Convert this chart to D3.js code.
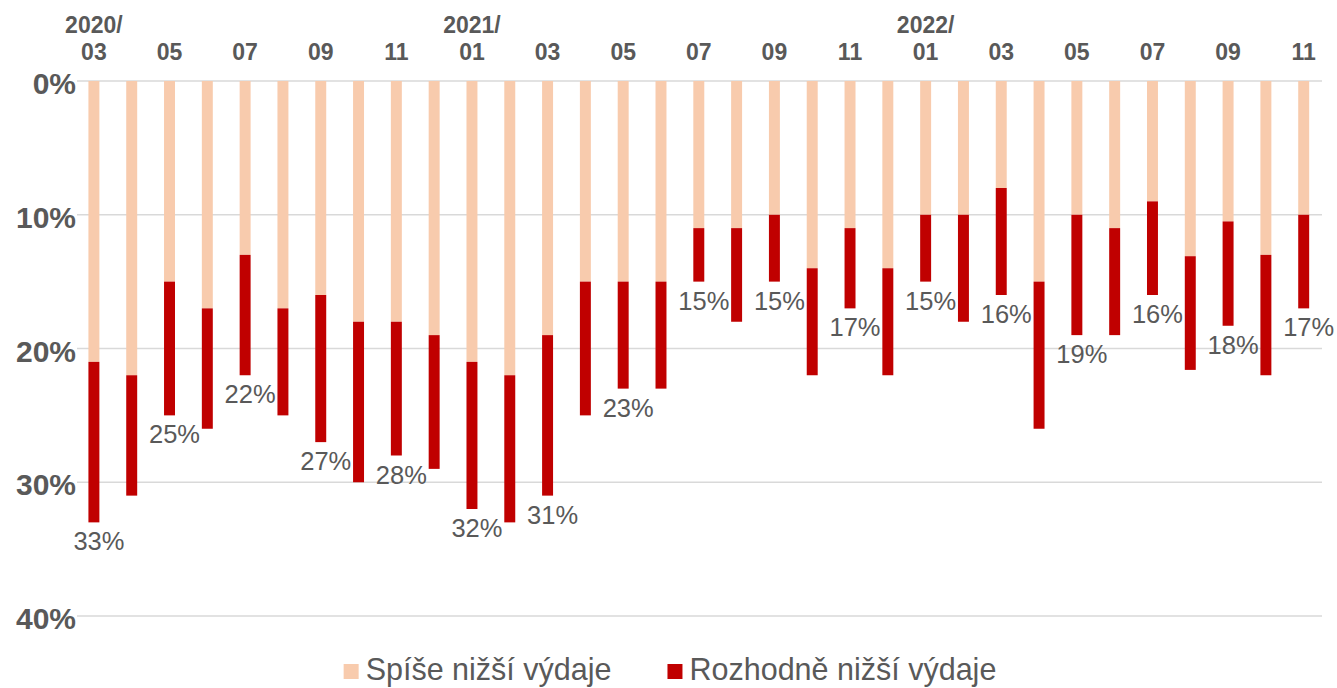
<!DOCTYPE html>
<html lang="cs">
<head>
  <meta charset="UTF-8">
  <title>Nižší výdaje</title>
  <script src="https://d3js.org/d3.v7.min.js"></script>
  <style>
    body { margin: 0; background: #fff; }
    text { font-family: Arial, "Liberation Sans", sans-serif; fill: #595959; }
    .axis-y text { font-size: 30px; font-weight: bold; }
    .axis-x text { font-size: 23px; font-weight: bold; }
    .val { font-size: 25.5px; }
    .legend text { font-size: 30.5px; }
  </style>
</head>
<body>
  <div id="chart"></div>

  <script>
    // months (tick labels come from these)
    const months = [
      "2020/03","2020/04","2020/05","2020/06","2020/07","2020/08","2020/09","2020/10","2020/11","2020/12",
      "2021/01","2021/02","2021/03","2021/04","2021/05","2021/06","2021/07","2021/08","2021/09","2021/10","2021/11","2021/12",
      "2022/01","2022/02","2022/03","2022/04","2022/05","2022/06","2022/07","2022/08","2022/09","2022/10","2022/11"
    ];
    // share of respondents, %
    const spise = [21,22,15,17,13,17,16,18,18,19,21,22,19,15,15,15,11,11,10,14,11,14,10,10,8,15,10,11,9,13.1,10.5,13,10];
    const rozhodne = [12,9,10,9,9,8,11,12,10,10,11,11,12,10,8,8,4,7,5,8,6,8,5,8,8,11,9,8,7,8.5,7.8,9,7];
    const seriesNames = ["Spíše nižší výdaje", "Rozhodně nižší výdaje"];
    const colors = ["#f8cbad", "#c00000"];
    const yTicks = [0, 10, 20, 30, 40];

    const width = 1337;
    const height = 688;

    const svg = d3.select("#chart")
      .append("svg")
      .attr("width", width)
      .attr("height", height);

    const x = d3.scaleBand()
      .domain(months)
      .range([75, 1322.6])
      .paddingInner(0.71)
      .paddingOuter(0.355);

    const y = d3.scaleLinear()
      .domain([0, 40])
      .range([81, 616]);

    // gridlines
    svg.append("g")
      .selectAll("line")
      .data(yTicks)
      .enter()
      .append("line")
      .attr("x1", 77)
      .attr("x2", 1322)
      .attr("y1", d => y(d))
      .attr("y2", d => y(d))
      .attr("stroke", "#d9d9d9")
      .attr("stroke-width", 1.5);

    // y labels
    svg.append("g")
      .attr("class", "axis-y")
      .selectAll("text")
      .data(yTicks)
      .enter()
      .append("text")
      .attr("x", 76)
      .attr("y", d => y(d) + 13)
      .attr("text-anchor", "end")
      .text(d => d + "%");

    // stacked bars (going down from 0%)
    const rows = months.map((m, i) => ({ month: m, spise: spise[i], rozhodne: rozhodne[i] }));
    const stack = d3.stack().keys(["spise", "rozhodne"])(rows);

    svg.append("g")
      .selectAll("g")
      .data(stack)
      .enter()
      .append("g")
      .attr("fill", (d, i) => colors[i])
      .selectAll("rect")
      .data(d => d)
      .enter()
      .append("rect")
      .attr("x", d => x(d.data.month))
      .attr("y", d => y(d[0]))
      .attr("width", x.bandwidth())
      .attr("height", d => y(d[1]) - y(d[0]));

    // total labels on every other month
    const totals = stack[1];
    svg.append("g")
      .selectAll("text")
      .data(totals.filter((d, i) => i % 2 === 0))
      .enter()
      .append("text")
      .attr("class", "val")
      .attr("x", d => x(d.data.month) + x.bandwidth() / 2 + 5)
      .attr("y", d => y(d[1]) + 28)
      .attr("text-anchor", "middle")
      .text(d => Math.round(d[1]) + "%");

    // x labels on top
    const xg = svg.append("g").attr("class", "axis-x");
    months.forEach((m, i) => {
      if (i % 2 !== 0) return;
      const [yr, mo] = m.split("/");
      const cx = x(m) + x.bandwidth() / 2;
      xg.append("text")
        .attr("x", cx)
        .attr("y", 60)
        .attr("text-anchor", "middle")
        .text(mo);
      if (i === 0 || mo === "01") {
        xg.append("text")
          .attr("x", cx)
          .attr("y", 32.5)
          .attr("text-anchor", "middle")
          .text(yr + "/");
      }
    });

    // legend, centred under the chart
    const legend = svg.append("g").attr("class", "legend");
    const items = seriesNames.map((name, i) => {
      const g = legend.append("g");
      g.append("rect")
        .attr("x", 0)
        .attr("y", -16)
        .attr("width", 15)
        .attr("height", 15)
        .attr("fill", colors[i]);
      const t = g.append("text")
        .attr("x", 22)
        .attr("y", 0)
        .text(name);
      return { g, w: 22 + t.node().getComputedTextLength() };
    });
    const gap = 56;
    const total = d3.sum(items, d => d.w) + gap * (items.length - 1);
    let lx = 670 - total / 2;
    items.forEach(it => {
      it.g.attr("transform", `translate(${lx},680)`);
      lx += it.w + gap;
    });
  </script>
</body>
</html>
